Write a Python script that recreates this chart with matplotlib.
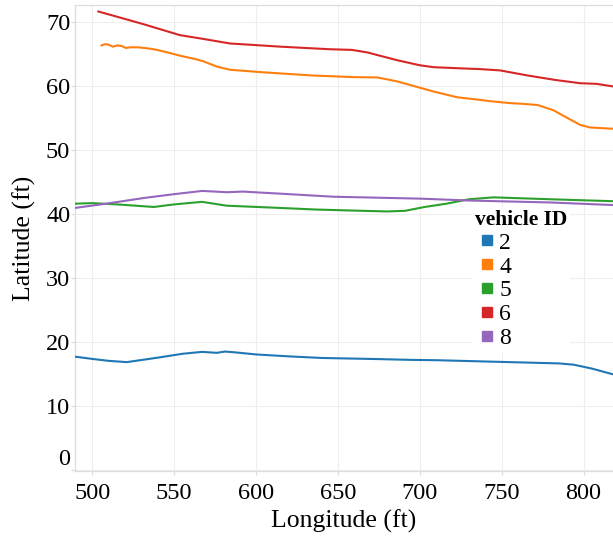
import matplotlib
matplotlib.use("Agg")
import matplotlib.pyplot as plt
from matplotlib.lines import Line2D

# trajectories per vehicle: longitude / latitude in ft
lon_2 = [488.0, 500.0, 510.0, 521.0, 540.0, 555.0, 567.0, 576.0, 581.0, 586.0, 600.0, 620.0, 640.0, 670.0, 695.0, 710.0, 740.0, 770.0, 785.0, 794.0, 805.0, 818.0]
lat_2 = [17.8, 17.4, 17.1, 16.9, 17.6, 18.2, 18.5, 18.35, 18.55, 18.45, 18.1, 17.8, 17.55, 17.4, 17.25, 17.2, 17.0, 16.8, 16.7, 16.5, 15.9, 15.0]

lon_4 = [505.5, 508.0, 510.0, 512.5, 515.5, 518.0, 520.5, 523.0, 528.0, 535.0, 539.5, 546.0, 553.5, 564.0, 568.0, 576.0, 584.0, 604.5, 635.0, 659.5, 674.0, 686.0, 708.5, 723.0, 737.0, 743.0, 755.0, 762.0, 772.0, 781.5, 790.0, 798.0, 804.0, 818.0]
lat_4 = [66.3, 66.5, 66.4, 66.1, 66.3, 66.2, 65.9, 66.0, 66.0, 65.8, 65.6, 65.2, 64.7, 64.1, 63.8, 63.0, 62.5, 62.1, 61.6, 61.35, 61.3, 60.7, 59.1, 58.2, 57.8, 57.6, 57.3, 57.2, 57.0, 56.2, 55.0, 53.9, 53.5, 53.3]

lon_5 = [488.0, 500.0, 515.0, 537.5, 550.0, 567.0, 582.0, 610.0, 636.5, 665.0, 680.0, 691.0, 703.0, 716.0, 730.0, 745.0, 780.0, 818.0]
lat_5 = [41.6, 41.7, 41.5, 41.1, 41.5, 41.9, 41.3, 41.0, 40.7, 40.5, 40.4, 40.5, 41.1, 41.6, 42.3, 42.6, 42.3, 42.0]

lon_6 = [503.5, 530.0, 553.5, 568.0, 584.0, 615.0, 645.0, 658.5, 668.0, 686.0, 700.0, 708.5, 727.0, 737.0, 749.0, 766.0, 783.0, 798.0, 808.0, 818.0]
lat_6 = [71.6, 69.7, 67.9, 67.3, 66.6, 66.1, 65.7, 65.6, 65.2, 64.0, 63.2, 62.9, 62.7, 62.6, 62.4, 61.6, 60.9, 60.4, 60.3, 59.9]

lon_8 = [488.0, 508.0, 531.5, 550.0, 567.0, 575.0, 582.0, 592.0, 620.0, 647.0, 700.0, 731.0, 780.0, 818.0]
lat_8 = [40.9, 41.6, 42.5, 43.1, 43.6, 43.5, 43.4, 43.5, 43.1, 42.7, 42.4, 42.1, 41.8, 41.4]

vehicle_ids = ["2", "4", "5", "6", "8"]
colors = ["#1f77b4", "#ff7f0e", "#2ca02c", "#d62728", "#9467bd"]

x_ticks = [500, 550, 600, 650, 700, 750, 800]
y_ticks = [0, 10, 20, 30, 40, 50, 60, 70]

plt.rcParams["font.family"] = ["Liberation Serif", "DejaVu Serif"]

fig = plt.figure(figsize=(6.13, 5.37), dpi=100)
ax = fig.add_axes([75 / 613, 66 / 537, 538 / 613, 466 / 537])

tracks = [(lon_2, lat_2), (lon_4, lat_4), (lon_5, lat_5), (lon_6, lat_6), (lon_8, lat_8)]
for (lon, lat), c in zip(tracks, colors):
    ax.plot(lon, lat, color=c, lw=1.5, solid_capstyle="round", zorder=3)

ax.set_xlim(489.4, 818)
ax.set_ylim(-0.08, 72.6)
ax.set_xticks(x_ticks)
ax.set_yticks(y_ticks)
ax.grid(True, color="#eeeeee", lw=0.8, zorder=0)
ax.set_axisbelow(True)

for side in ["left", "bottom", "top"]:
    ax.spines[side].set_color("#dddddd")
    ax.spines[side].set_linewidth(0.9)
ax.spines["right"].set_visible(False)

ax.tick_params(axis="both", color="#dddddd", length=3, width=0.9, labelsize=17.5)
ax.tick_params(axis="x", pad=5.5)
ax.tick_params(axis="y", pad=0.5)

ax.set_xlabel("Longitude (ft)", fontsize=18.5, labelpad=4)
ax.set_ylabel("Latitude (ft)", fontsize=18.5, labelpad=7)

# keep the lowest y label inside the plot area
ax.get_yticklabels()[0].set_verticalalignment("bottom")

handles = [Line2D([], [], marker="s", ls="none", color=c, markersize=7) for c in colors]
leg = ax.legend(handles, vehicle_ids, title="vehicle ID", loc="upper left",
                bbox_to_anchor=(472 / 613, 1 - 207 / 537), bbox_transform=fig.transFigure,
                fontsize=17, title_fontproperties={"weight": "bold", "size": 15.5},
                alignment="left", frameon=True, fancybox=False, borderpad=0.12,
                handlelength=0.99, handletextpad=0.05, labelspacing=0.1, borderaxespad=0)
leg.get_frame().set_facecolor("white")
leg.get_frame().set_edgecolor("none")
leg.get_frame().set_alpha(1)

fig.savefig("out.png", dpi=100)
